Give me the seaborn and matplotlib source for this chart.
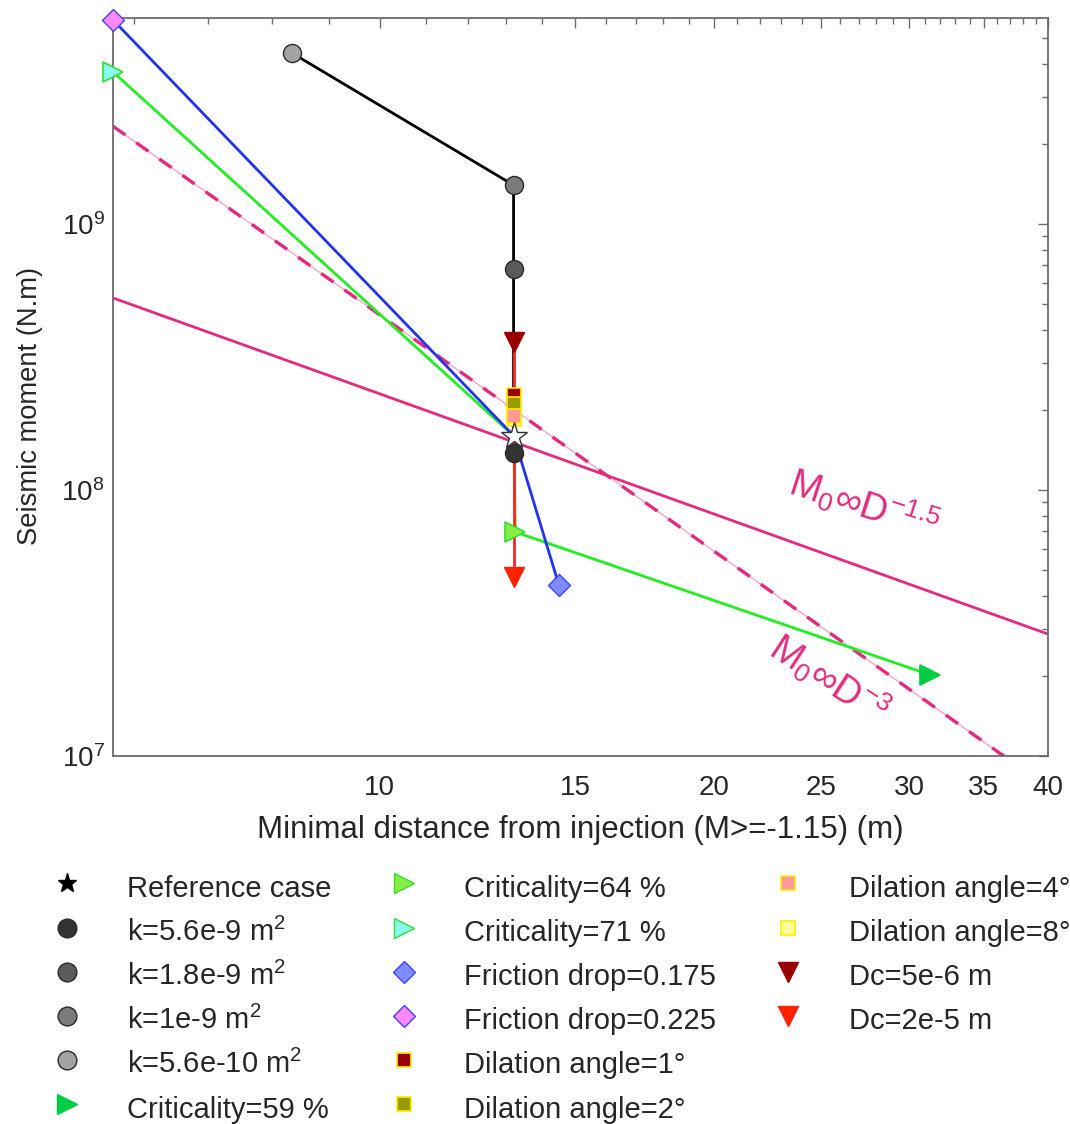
import numpy as np
import pandas as pd
import seaborn as sns
import matplotlib.pyplot as plt
from matplotlib.lines import Line2D
from matplotlib.ticker import FixedLocator, FixedFormatter, LogLocator, NullFormatter

# --- data ---
ref_x = 13.2
ref_y = 1.6e8

perm_labels = ['k=5.6e-10 m$^2$', 'k=1e-9 m$^2$', 'k=1.8e-9 m$^2$', 'k=5.6e-9 m$^2$']
perm_x = [8.33, 13.2, 13.2, 13.2]
perm_y = [4.4e9, 1.4e9, 6.8e8, 1.38e8]

crit_labels = ['Criticality=59 %', 'Criticality=64 %', 'Criticality=71 %']
crit_x = [31.3, 13.25, 5.75]
crit_y = [2.02e7, 6.95e7, 3.73e9]

fric_labels = ['Friction drop=0.175', 'Friction drop=0.225']
fric_x = [14.5, 5.75]
fric_y = [4.4e7, 5.85e9]

dil_labels = ['Dilation angle=1°', 'Dilation angle=2°', 'Dilation angle=4°', 'Dilation angle=8°']
dil_x = [13.2, 13.2, 13.2, 13.2]
dil_y = [2.28e8, 2.1e8, 1.9e8, 1.85e8]

dc_labels = ['Dc=5e-6 m', 'Dc=2e-5 m']
dc_x = [13.2, 13.2]
dc_y = [3.6e8, 4.7e7]

# power-law guides M0 = C * D^n (slopes as drawn)
law_exp = [-1.5, -2.95]
law_coef = [7.27e9, 4.06e11]
law_labels = ['M$_0$∞D$^{-1.5}$', 'M$_0$∞D$^{-3}$']

x_major = [10, 15, 20, 25, 30, 35, 40]

# --- styles ---
perm_face = ['#a3a3a3', '#7c7c7c', '#5a5a5a', '#333333']
crit_face = ['#00cc44', '#88ee44', '#88ffee']
crit_edge = ['#00cc44', '#33dd33', '#33dd33']
fric_face = ['#7f8cff', '#ff88ff']
dil_face = ['#990000', '#999900', '#ff9999', '#ffff99']
dc_face = ['#990000', '#ff2200']
pink = '#e52a7d'

sns.set_theme(style='white')
plt.rcParams['font.family'] = ['Liberation Sans', 'DejaVu Sans']
plt.rcParams['mathtext.fontset'] = 'custom'
plt.rcParams['mathtext.rm'] = 'Liberation Sans'
plt.rcParams['mathtext.it'] = 'Liberation Sans:italic'
plt.rcParams['mathtext.bf'] = 'Liberation Sans:bold'
plt.rcParams['axes.unicode_minus'] = False

txt = '#262626'

fig = plt.figure(figsize=(10.7, 11.24), dpi=100)
ax = fig.add_axes([0.1056, 0.3274, 0.8738, 0.6566])
ax.set_xscale('log')
ax.set_yscale('log')

# power-law guides
d = np.array([5.75, 40.0])
sns.lineplot(x=d, y=law_coef[0] * d ** law_exp[0], color=pink, lw=2.0, ax=ax, zorder=1)
sns.lineplot(x=d, y=law_coef[1] * d ** law_exp[1], color='#f4a6c8', lw=1.0, ax=ax, zorder=1)
ax.plot(d, law_coef[1] * d ** law_exp[1], color=pink, lw=2.4, ls=(0, (4.5, 4)), zorder=1)

# connecting lines through the reference case
def series_line(xs, ys, color, z):
    df = pd.DataFrame({'x': xs, 'y': ys})
    sns.lineplot(data=df, x='x', y='y', sort=False, estimator=None, color=color,
                 lw=2.0, ax=ax, zorder=z)

series_line(perm_x[:3] + [ref_x, perm_x[3]], perm_y[:3] + [ref_y, perm_y[3]], 'black', 2)
series_line([crit_x[0], crit_x[1], ref_x, crit_x[2]], [crit_y[0], crit_y[1], ref_y, crit_y[2]], '#22ee22', 2)
series_line([fric_x[0], ref_x, fric_x[1]], [fric_y[0], ref_y, fric_y[1]], '#2233ee', 3)
series_line([dc_x[0], ref_x, dc_x[1]], [dc_y[0], ref_y, dc_y[1]], '#ff2222', 3)

# markers
mk = dict(clip_on=False, zorder=5)
for i in range(4):
    ax.plot(perm_x[i], perm_y[i], 'o', ms=13, mfc=perm_face[i], mec='#2a2a2a', mew=1.0, **mk)
for i in range(3):
    ax.plot(crit_x[i], crit_y[i], '>', ms=15, mfc=crit_face[i], mec=crit_edge[i], mew=1.2, **mk)
for i in range(2):
    ax.plot(fric_x[i], fric_y[i], 'D', ms=11, mfc=fric_face[i], mec='#4444ee', mew=1.0, **mk)
for i in [3, 0, 1, 2]:
    ax.plot(dil_x[i], dil_y[i], 's', ms=10, mfc=dil_face[i], mec='#ffee00', mew=1.2, **mk)
for i in range(2):
    ax.plot(dc_x[i], dc_y[i], 'v', ms=15, mfc=dc_face[i], mec=dc_face[i], mew=1.0, **mk)
ax.plot(ref_x, ref_y, '*', ms=20, mfc='white', mec='#333333', mew=1.0, clip_on=False, zorder=6)

# power-law labels
ax.text(27.3, 8.9e7, law_labels[0], color=pink, fontsize=27, rotation=-18,
        ha='center', va='center', rotation_mode='anchor')
ax.text(25.4, 1.95e7, law_labels[1], color=pink, fontsize=27, rotation=-33,
        ha='center', va='center', rotation_mode='anchor')

# axes
ax.set_xlim(5.75, 40)
ax.set_ylim(1e7, 5.95e9)
ax.xaxis.set_major_locator(FixedLocator(x_major))
ax.xaxis.set_major_formatter(FixedFormatter([str(v) for v in x_major]))
ax.xaxis.set_minor_locator(FixedLocator([v for v in range(6, 40) if v not in x_major]))
ax.xaxis.set_minor_formatter(NullFormatter())
ax.yaxis.set_major_locator(LogLocator(base=10, numticks=10))
ax.yaxis.set_minor_locator(LogLocator(base=10, subs=np.arange(2, 10), numticks=10))
ax.yaxis.set_minor_formatter(NullFormatter())
ax.tick_params(which='both', direction='in', top=True, right=True, colors='#6b6b6b',
               labelcolor=txt, labelsize=20, width=1.0)
ax.tick_params(which='major', length=7)
ax.tick_params(which='minor', length=4)
ax.tick_params(axis='x', pad=14)
ax.tick_params(axis='y', pad=6)
for s in ax.spines.values():
    s.set_color('#6b6b6b')
    s.set_linewidth(1.3)
    s.set_visible(True)
ax.set_xlabel('Minimal distance from injection (M>=-1.15) (m)', fontsize=22.5, color=txt, labelpad=10)
ax.set_ylabel('Seismic moment (N.m)', fontsize=19.7, color=txt)
ax.yaxis.set_label_coords(-0.075, 0.474)
ax.grid(False)

# legend in three columns
def h(marker, ms, fc, ec, mew=1.0):
    return Line2D([], [], ls='none', marker=marker, ms=ms, mfc=fc, mec=ec, mew=mew)

col1 = [h('*', 14, 'black', 'black')] + [h('o', 13.5, perm_face[i], '#2a2a2a') for i in [3, 2, 1, 0]] \
    + [h('>', 15, crit_face[0], crit_edge[0])]
lab1 = ['Reference case'] + [perm_labels[i] for i in [3, 2, 1, 0]] + [crit_labels[0]]
col2 = [h('>', 15, crit_face[1], crit_edge[1]), h('>', 15, crit_face[2], crit_edge[2])] \
    + [h('D', 11, fric_face[i], '#4444ee') for i in range(2)] \
    + [h('s', 10, dil_face[i], '#ffee00', 1.2) for i in range(2)]
lab2 = crit_labels[1:] + fric_labels + dil_labels[:2]
col3 = [h('s', 10, dil_face[i], '#ffee00', 1.2) for i in [2, 3]] \
    + [h('v', 15, dc_face[i], dc_face[i]) for i in range(2)]
lab3 = dil_labels[2:] + dc_labels

lfs = 21
for hs, ls, x0 in [(col1, lab1, 0.0425), (col2, lab2, 0.3575), (col3, lab3, 0.7168)]:
    fig.legend(hs, ls, loc='upper left', bbox_to_anchor=(x0, 0.226), frameon=False,
               fontsize=lfs, labelcolor=txt, handlelength=1.45, handleheight=1.45,
               handletextpad=1.35, labelspacing=0.325, borderpad=0, borderaxespad=0)

fig.savefig('out.png', dpi=100)
